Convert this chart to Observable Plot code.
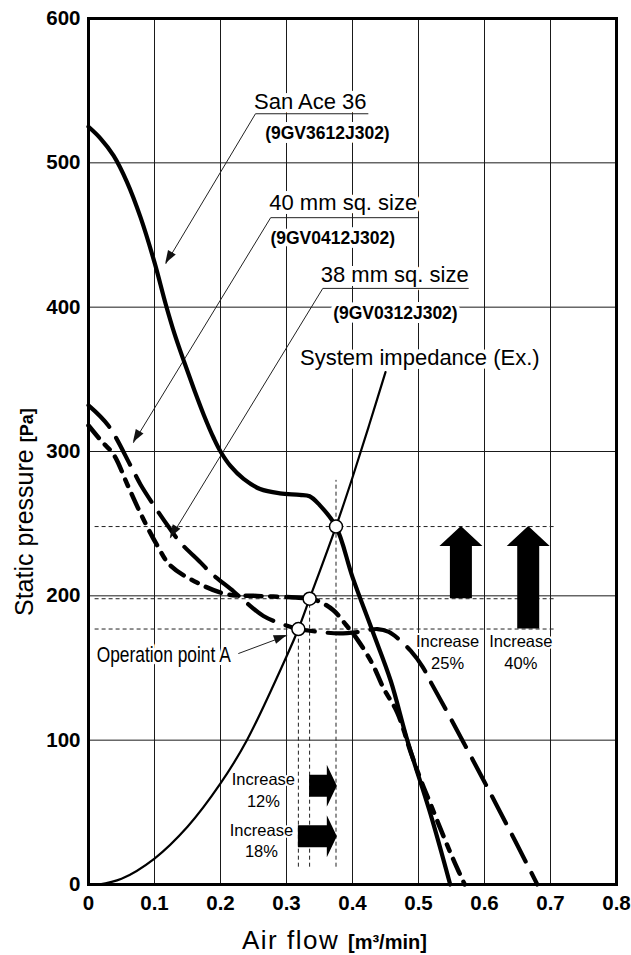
<!DOCTYPE html>
<html><head><meta charset="utf-8">
<script src="https://cdn.jsdelivr.net/npm/d3@7"></script>
<script src="https://cdn.jsdelivr.net/npm/@observablehq/plot@0.6"></script>
<style>
html,body{margin:0;padding:0;background:#fff;}
#chart svg{display:block;}
</style></head><body><div id="chart"></div>
<script>
// ---------- axes ----------
const xTicks = [0, 0.1, 0.2, 0.3, 0.4, 0.5, 0.6, 0.7, 0.8];
const yTicks = [0, 100, 200, 300, 400, 500, 600];
const xGrid = [0.1, 0.2, 0.3, 0.4, 0.5, 0.6, 0.7];
const yGrid = [100, 200, 300, 400, 500];

// ---------- curves [air flow, static pressure] ----------
const sanAce36 = [[0,525],[0.018,517],[0.038,505],[0.058,487],[0.079,462],[0.1,431],[0.117,402],[0.13,382],[0.145,362],[0.16,343],[0.175,325],[0.19,309],[0.2,300],[0.215,290],[0.235,281],[0.26,274],[0.29,271],[0.32,270],[0.335,269],[0.35,263],[0.375,248],[0.4,213],[0.43,176],[0.458,141],[0.483,100],[0.52,46],[0.548,0]];
const size40 = [[0,332],[0.03,318],[0.064,290],[0.079,277],[0.1,262],[0.121,248],[0.139,237],[0.17,223],[0.185,216],[0.22,203],[0.235,197],[0.265,186],[0.296,180],[0.318,177],[0.35,175],[0.38,174],[0.41,175],[0.438,177],[0.455,175],[0.47,170],[0.488,162],[0.506,151],[0.52,139],[0.55,114],[0.6,71],[0.65,27],[0.68,0]];
const size38 = [[0,318],[0.02,307],[0.038,298],[0.059,277],[0.079,257],[0.104,235],[0.124,221],[0.165,209],[0.21,201],[0.25,200],[0.28,199.5],[0.335,198],[0.35,196],[0.371,190],[0.39,180],[0.407,170],[0.43,153],[0.447,136],[0.468,119],[0.488,92],[0.503,73],[0.518,56],[0.541,30],[0.555,15],[0.57,0]];
const impedance = [[0.015,0],[0.05,4],[0.1,18],[0.15,40],[0.2,70],[0.24,100],[0.3,158],[0.318,177],[0.335,198],[0.375,248],[0.4,282],[0.425,318],[0.45,355]];

// ---------- operating points & reference lines ----------
const opX = [0.318, 0.335, 0.375];
const opY = [177, 198, 248];
const refY = [248, 198, 177];
const refStart = 0.01, refEnd = 0.71;
const vrefX = [0.318, 0.335, 0.375];
const vrefTop = [177, 198, 280];
const vrefBottom = 12;

// ---------- block arrows ----------
const upArrowX = [0.565, 0.667];
const upArrowFrom = [198, 177];
const upArrowTo = [248, 248];
const rightArrowY = [68, 33];
const rightArrowFrom = [0.335, 0.318];
const rightArrowTo = [0.377, 0.377];

// ---------- annotation leaders ----------
const leaderFromX = [0.253, 0.276, 0.355, 0.227];
const leaderFromY = [534, 462, 413, 160];
const leaderToX = [0.117, 0.068, 0.124, 0.301];
const leaderToY = [430, 306, 240, 172.6];
const underlineX1 = [0.253, 0.276, 0.355];
const underlineX2 = [0.424, 0.5, 0.576];
const underlineY = [534, 462, 413];

// ---------- annotation texts ----------
const nameText = ["San Ace 36", "40 mm sq. size", "38 mm sq. size", "System impedance (Ex.)"];
const nameX = [0.336, 0.386, 0.464, 0.502];
const nameY = [542, 472, 422, 364.5];
const modelText = ["(9GV3612J302)", "(9GV0412J302)", "(9GV0312J302)"];
const modelX = [0.362, 0.37, 0.465];
const modelY = [520.4, 447.7, 395.7];
const opLabel = ["Operation point A"];
const opLabelX = [0.114];
const opLabelY = [158.7];
const incText = ["Increase\n25%", "Increase\n40%", "Increase\n12%", "Increase\n18%"];
const incX = [0.544, 0.655, 0.265, 0.262];
const incY = [161.5, 161.5, 66.2, 31.2];

const FONT = "'Liberation Sans', Arial, Helvetica, sans-serif";
const pts = a => a.map(([x, y]) => ({x, y}));

const links = leaderFromX.map((x1, i) => ({x1, y1: leaderFromY[i], x2: leaderToX[i], y2: leaderToY[i]}))
  .concat(underlineX1.map((x1, i) => ({x1, y1: underlineY[i], x2: underlineX2[i], y2: underlineY[i]})));

function shapes(index, scales) {
  const {x, y} = scales;
  const g = d3.create("svg:g");
  upArrowX.forEach((v, i) => {
    const cx = x(v), yb = y(upArrowFrom[i]), yt = y(upArrowTo[i]);
    const sw = 11, hw = 21.5, hl = 20;
    g.append("path").attr("fill", "#000")
      .attr("d", `M${cx-sw},${yb}L${cx-sw},${yt+hl}L${cx-hw},${yt+hl}L${cx},${yt}L${cx+hw},${yt+hl}L${cx+sw},${yt+hl}L${cx+sw},${yb}Z`);
  });
  rightArrowY.forEach((v, i) => {
    const cy = y(v), xl = x(rightArrowFrom[i]), xr = x(rightArrowTo[i]);
    const sh = 11, hh = 21, hl = 10;
    g.append("path").attr("fill", "#000")
      .attr("d", `M${xl},${cy-sh}L${xr-hl},${cy-sh}L${xr-hl},${cy-hh}L${xr},${cy}L${xr-hl},${cy+hh}L${xr-hl},${cy+sh}L${xl},${cy+sh}Z`);
  });
  leaderFromX.forEach((v, i) => {
    const x1 = x(v), y1 = y(leaderFromY[i]), x2 = x(leaderToX[i]), y2 = y(leaderToY[i]);
    const a = Math.atan2(y2 - y1, x2 - x1), L = 13, W = 4.5;
    const bx = x2 - L * Math.cos(a), by = y2 - L * Math.sin(a);
    const px = -Math.sin(a) * W, py = Math.cos(a) * W;
    g.append("path").attr("fill", "#111")
      .attr("d", `M${x2},${y2}L${bx+px},${by+py}L${bx-px},${by-py}Z`);
  });
  return g.node();
}

function axisTitles() {
  const g = d3.create("svg:g").attr("font-family", FONT).attr("fill", "#000").attr("text-anchor", "start");
  const yl = g.append("text").attr("text-anchor", "start").attr("transform", "translate(33,616) rotate(-90)");
  yl.append("tspan").attr("font-size", 25).attr("font-weight", "normal").text("Static pressure ");
  yl.append("tspan").attr("font-size", 18).attr("font-weight", "bold").text("[Pa]");
  const xl = g.append("text").attr("text-anchor", "start").attr("x", 242).attr("y", 949);
  xl.append("tspan").attr("font-size", 26).attr("font-weight", "normal").attr("letter-spacing", "1.5").text("Air flow ");
  xl.append("tspan").attr("font-size", 20).attr("font-weight", "bold").text("[m³/min]");
  return g.node();
}

const chart = Plot.plot({
  width: 631,
  height: 955,
  marginLeft: 88,
  marginRight: 15,
  marginTop: 18,
  marginBottom: 71,
  style: {fontFamily: FONT, fontSize: "20px", fontWeight: "bold", background: "white", color: "#000"},
  x: {domain: [0, 0.8], ticks: xTicks, tickSize: 0, tickPadding: 11, tickFormat: d => d === 0 ? "0" : d.toFixed(1), label: null},
  y: {domain: [0, 600], ticks: yTicks, tickSize: 0, tickPadding: 8, tickFormat: d => String(d), label: null},
  marks: [
    Plot.ruleX(xGrid, {stroke: "#1a1a1a", strokeWidth: 1}),
    Plot.ruleY(yGrid, {stroke: "#1a1a1a", strokeWidth: 1}),
    Plot.text(nameText.map((t, i) => ({t, x: nameX[i], y: nameY[i]})), {x: "x", y: "y", text: "t", fontSize: 22, fontWeight: "normal", fill: "#000", stroke: "white", strokeWidth: 8, paintOrder: "stroke"}),
    Plot.text(modelText.map((t, i) => ({t, x: modelX[i], y: modelY[i]})), {x: "x", y: "y", text: "t", fontSize: 17.5, fontWeight: "bold", fill: "#000", stroke: "white", strokeWidth: 8, paintOrder: "stroke"}),
    Plot.text(opLabel.map((t, i) => ({t, x: opLabelX[i], y: opLabelY[i]})), {x: "x", y: "y", text: "t", fontSize: 22, fontWeight: "normal", fill: "#000", stroke: "white", strokeWidth: 6, paintOrder: "stroke"}),
    Plot.text(incText.map((t, i) => ({t, x: incX[i], y: incY[i]})), {x: "x", y: "y", text: "t", fontSize: 16.5, lineHeight: 1.32, fontWeight: "normal", fill: "#000", stroke: "white", strokeWidth: 4, paintOrder: "stroke"}),
    Plot.ruleY(refY.map(y => ({y, x1: refStart, x2: refEnd})), {y: "y", x1: "x1", x2: "x2", stroke: "#222", strokeWidth: 1, strokeDasharray: "4,3"}),
    Plot.ruleX(vrefX.map((x, i) => ({x, y1: vrefBottom, y2: vrefTop[i]})), {x: "x", y1: "y1", y2: "y2", stroke: "#222", strokeWidth: 1, strokeDasharray: "4,3"}),
    Plot.link(links, {x1: "x1", y1: "y1", x2: "x2", y2: "y2", stroke: "#222", strokeWidth: 1}),
    Plot.line(pts(impedance), {x: "x", y: "y", stroke: "#000", strokeWidth: 2.2, curve: "catmull-rom"}),
    Plot.line(pts(size38), {x: "x", y: "y", stroke: "#000", strokeWidth: 4.5, strokeDasharray: "16,9,7,9", curve: "catmull-rom"}),
    Plot.line(pts(size40), {x: "x", y: "y", stroke: "#000", strokeWidth: 4.2, strokeDasharray: "30,13", curve: "catmull-rom"}),
    Plot.line(pts(sanAce36), {x: "x", y: "y", stroke: "#000", strokeWidth: 4.2, curve: "catmull-rom"}),
    shapes,
    Plot.dot(opX.map((x, i) => ({x, y: opY[i]})), {x: "x", y: "y", r: 6.5, fill: "white", stroke: "#000", strokeWidth: 1.5}),
    Plot.frame({stroke: "#000", strokeWidth: 3}),
    axisTitles
  ]
});

document.getElementById("chart").appendChild(chart);
// tick labels: bold, larger, like the reference
d3.select(chart).selectAll("g[aria-label^='x-axis'], g[aria-label^='y-axis']")
  .attr("font-size", 20.5).attr("font-weight", "bold").attr("font-family", FONT);
d3.select(chart).selectAll("g[aria-label^='x-axis'] text, g[aria-label^='y-axis'] text")
  .style("font-size", "20.5px").style("font-weight", "bold");
d3.select(chart).selectAll("text").filter(function() { return this.textContent === "Operation point A"; })
  .attr("textLength", 134).attr("lengthAdjust", "spacingAndGlyphs");
</script>
</body></html>
